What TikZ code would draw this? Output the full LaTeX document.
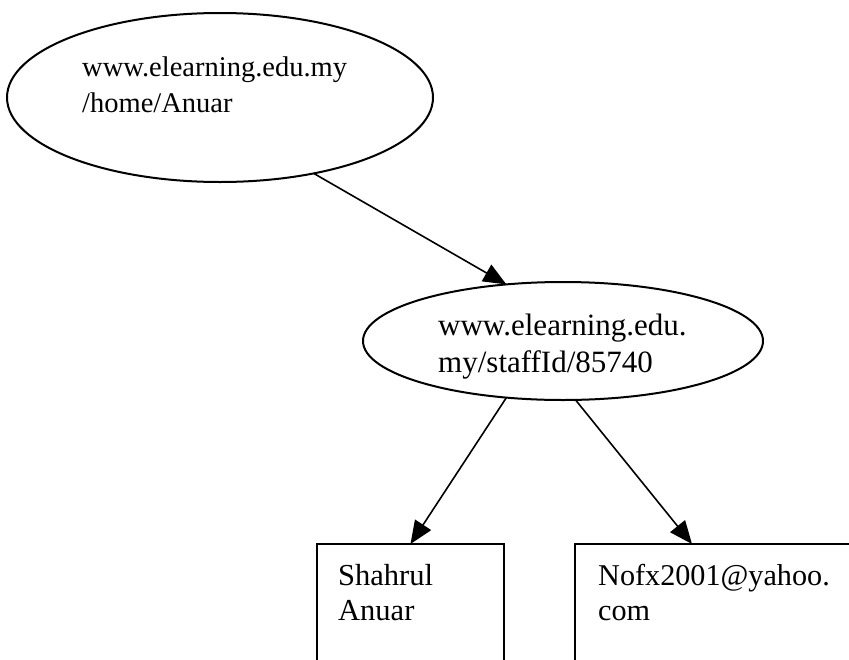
\documentclass[tikz,border=0pt]{standalone}
\usepackage{fontspec}
\setmainfont{Liberation Serif}
\usetikzlibrary{shapes.geometric,arrows.meta}
\begin{document}
\begin{tikzpicture}[x=1pt,y=-1pt,
  urlnode/.style={ellipse,draw,line width=2pt,outer sep=0pt,inner sep=0pt},
  leafbox/.style={rectangle,draw,line width=2pt,outer sep=0pt,inner sep=0pt},
  label/.style={inner sep=0pt,align=left,anchor=base west},
  link/.style={line width=1.6pt,-{Triangle[length=23pt,width=19pt]}}]
  \useasboundingbox (0,0) rectangle (849,659);

  % resource nodes
  \node[urlnode,minimum width=426pt,minimum height=169pt] (e1) at (220,97.5) {};
  \node[urlnode,minimum width=400pt,minimum height=118pt] (e2) at (563,341) {};

  % literal values (boxes run past the lower edge)
  \node[leafbox,minimum width=187pt,minimum height=176pt] (b1) at (410.5,632) {};
  \node[leafbox,minimum width=345pt,minimum height=176pt] (b2) at (747.5,632) {};

  % texts (anchored on the baseline of their last line)
  \node[label,font=\fontsize{28.5}{36}\selectfont] (t1) at (82,112) {www.elearning.edu.my\\/home/Anuar};
  \node[label,font=\fontsize{31}{37}\selectfont] (t2) at (438,372) {www.elearning.edu.\\my/staffId/85740};
  \node[label,font=\fontsize{30.5}{35}\selectfont] (t3) at (338,620) {Shahrul\\Anuar};
  \node[label,font=\fontsize{30.2}{35}\selectfont] (t4) at (598,620) {Nofx2001@yahoo.\\com};

  % arrow targets on the box tops
  \path (b2.north west) ++(117,0) coordinate (b2in);

  % connectors
  \draw[link] (e1.-39) -- (e2.135);
  \draw[link] (e2.-135) -- (b1.north);
  \draw[link] (e2.-78) -- (b2in);
\end{tikzpicture}
\end{document}
